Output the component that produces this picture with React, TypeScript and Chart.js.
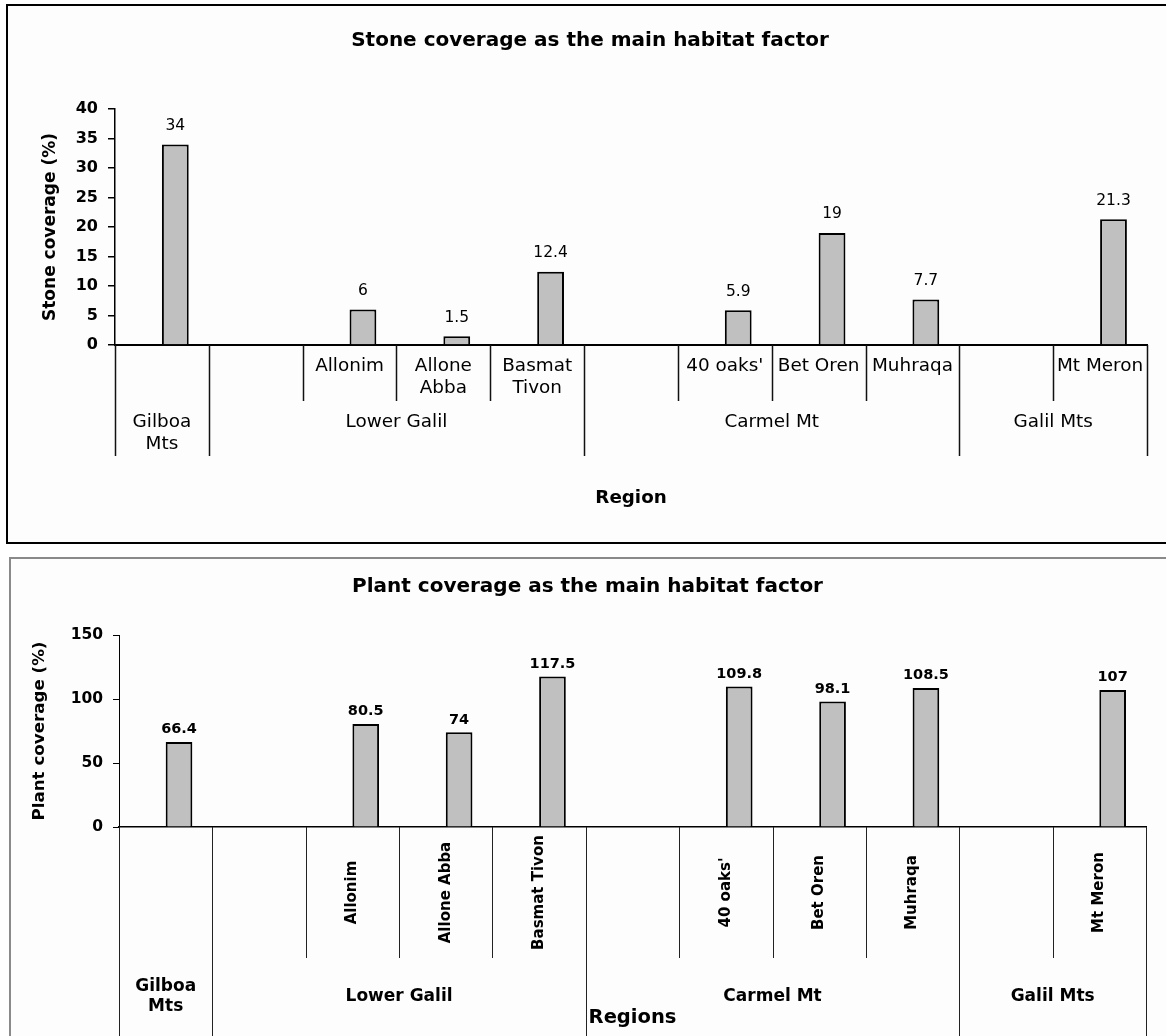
import { useEffect, useRef } from 'react';
import { Chart, registerables } from 'chart.js';

Chart.register(...registerables);

// One slot per bar position along the x axis; empty names are region-only slots
const siteNames = ['', '', 'Allonim', 'Allone Abba', 'Basmat Tivon', '', "40 oaks'", 'Bet Oren', 'Muhraqa', '', 'Mt Meron'];
// Regions that group the slots, and how many slots each one covers
const regionNames = ['Gilboa Mts', 'Lower Galil', 'Carmel Mt', 'Galil Mts'];
const regionSpans = [1, 4, 4, 2];

const stoneCoverage = [34, null, 6, 1.5, 12.4, null, 5.9, 19, 7.7, null, 21.3];
const plantCoverage = [66.4, null, 80.5, 74, 117.5, null, 109.8, 98.1, 108.5, null, 107];
// Empty leading series: every category holds two bar slots and the data bar takes the right one
const blankSeries = [null, null, null, null, null, null, null, null, null, null, null];

// min, max, step of each value axis
const stoneTicks = [0, 40, 5];
const plantTicks = [0, 150, 50];

const SANS = '"DejaVu Sans", Verdana, sans-serif';
const BAR_FILL = '#c0c0c0';

function wrapWords(ctx: CanvasRenderingContext2D, text: string, maxWidth: number): string[] {
  const words = text.split(' ');
  const lines: string[] = [];
  let line = '';
  for (const w of words) {
    const test = line ? line + ' ' + w : w;
    if (line && ctx.measureText(test).width > maxWidth) {
      lines.push(line);
      line = w;
    } else {
      line = test;
    }
  }
  if (line) lines.push(line);
  return lines;
}

// Two-level category axis: site names under each bar, region names below them
const regionAxis = {
  id: 'regionAxis',
  afterDraw(chart: any, _args: any, o: any) {
    const { ctx } = chart;
    const xs = chart.scales.x;
    const n = chart.data.labels.length;
    const band = (xs.right - xs.left) / n;
    const edge = (k: number) => xs.left + k * band;
    const y0 = xs.top;

    const bounds = [0];
    let acc = 0;
    o.spans.forEach((s: number) => {
      acc += s;
      bounds.push(acc);
    });

    ctx.save();
    ctx.strokeStyle = o.lineColor;
    ctx.lineWidth = o.lineWidth;
    ctx.beginPath();
    for (let k = 0; k <= n; k++) {
      const px = Math.round(edge(k)) + 0.5;
      ctx.moveTo(px, y0);
      ctx.lineTo(px, y0 + o.siteDepth);
    }
    bounds.forEach((b) => {
      const px = Math.round(edge(b)) + 0.5;
      ctx.moveTo(px, y0);
      ctx.lineTo(px, y0 + o.regionDepth);
    });
    ctx.stroke();

    ctx.fillStyle = o.textColor;
    ctx.textAlign = 'center';
    ctx.textBaseline = 'middle';

    ctx.font = o.siteFont;
    o.sites.forEach((name: string, i: number) => {
      if (!name) return;
      const cx = xs.getPixelForValue(i);
      if (o.rotateSites) {
        ctx.save();
        ctx.translate(cx, y0 + o.siteDepth / 2);
        ctx.rotate(-Math.PI / 2);
        ctx.fillText(name, 0, 0);
        ctx.restore();
      } else {
        wrapWords(ctx, name, band - 6).forEach((line, j) => {
          ctx.fillText(line, cx, y0 + o.siteOffset + j * o.siteLineGap);
        });
      }
    });

    ctx.font = o.regionFont;
    o.regions.forEach((name: string, r: number) => {
      const a = edge(bounds[r]);
      const b = edge(bounds[r + 1]);
      const lines = wrapWords(ctx, name, b - a - 6);
      const first =
        o.regionAnchor === 'middle'
          ? o.regionOffset - ((lines.length - 1) * o.regionLineGap) / 2
          : o.regionOffset;
      lines.forEach((line, j) => {
        ctx.fillText(line, (a + b) / 2, y0 + first + j * o.regionLineGap);
      });
    });
    ctx.restore();
  },
};

// Value printed above each bar
const valueLabels = {
  id: 'valueLabels',
  afterDatasetsDraw(chart: any, _args: any, o: any) {
    const { ctx } = chart;
    const meta = chart.getDatasetMeta(1);
    const values = chart.data.datasets[1].data;
    ctx.save();
    ctx.font = o.font;
    ctx.fillStyle = o.color;
    ctx.textAlign = 'center';
    ctx.textBaseline = 'middle';
    meta.data.forEach((bar: any, i: number) => {
      const v = values[i];
      if (v === null || v === undefined) return;
      ctx.fillText(String(v), bar.x, bar.y - o.gap);
    });
    ctx.restore();
  },
};

function stoneConfig(): any {
  return {
    type: 'bar',
    data: {
      labels: siteNames,
      datasets: [
        { label: '', data: blankSeries, backgroundColor: BAR_FILL, borderColor: '#000', borderWidth: 2 },
        { label: 'Stone coverage (%)', data: stoneCoverage, backgroundColor: BAR_FILL, borderColor: '#000', borderWidth: 2 },
      ],
    },
    options: {
      animation: false,
      responsive: false,
      events: [],
      layout: { padding: { left: 25, right: 19, top: 0, bottom: 0 } },
      datasets: { bar: { categoryPercentage: 2 / 3.5, barPercentage: 1 } },
      plugins: {
        legend: { display: false },
        tooltip: { enabled: false },
        title: {
          display: true,
          text: 'Stone coverage as the main habitat factor',
          color: '#000',
          font: { family: SANS, size: 20, weight: 'bold' },
          padding: { top: 23, bottom: 56 },
        },
        regionAxis: {
          sites: siteNames,
          regions: regionNames,
          spans: regionSpans,
          siteDepth: 56,
          regionDepth: 111,
          siteFont: `18.4px ${SANS}`,
          regionFont: `18.4px ${SANS}`,
          rotateSites: false,
          siteOffset: 21,
          siteLineGap: 22,
          regionOffset: 77,
          regionLineGap: 22,
          regionAnchor: 'top',
          lineColor: '#111',
          lineWidth: 1.5,
          textColor: '#000',
        },
        valueLabels: { font: `15.5px ${SANS}`, color: '#000', gap: 18.5 },
      },
      scales: {
        x: {
          grid: { display: false },
          ticks: { display: false },
          border: { display: true, color: '#000', width: 2 },
          title: {
            display: true,
            text: 'Region',
            color: '#000',
            font: { family: SANS, size: 18.3, weight: 'bold' },
            padding: { top: 0, bottom: 33 },
          },
          afterFit: (s: any) => {
            s.height = 197;
          },
        },
        y: {
          min: stoneTicks[0],
          max: stoneTicks[1],
          ticks: { stepSize: stoneTicks[2], color: '#000', padding: 10, font: { family: SANS, size: 16, weight: 'bold' } },
          grid: { drawOnChartArea: false, drawTicks: true, tickLength: 7, color: '#000', lineWidth: 1.5 },
          border: { display: true, color: '#000', width: 1.5 },
          title: {
            display: true,
            text: 'Stone coverage (%)',
            color: '#000',
            font: { family: SANS, size: 17, weight: 'bold' },
            padding: { top: 7.5, bottom: 0 },
          },
          afterFit: (s: any) => {
            s.width = 82;
          },
        },
      },
    },
    plugins: [regionAxis, valueLabels],
  };
}

function plantConfig(): any {
  return {
    type: 'bar',
    data: {
      labels: siteNames,
      datasets: [
        { label: '', data: blankSeries, backgroundColor: BAR_FILL, borderColor: '#000', borderWidth: 2 },
        { label: 'Plant coverage (%)', data: plantCoverage, backgroundColor: BAR_FILL, borderColor: '#000', borderWidth: 2 },
      ],
    },
    options: {
      animation: false,
      responsive: false,
      events: [],
      layout: { padding: { left: 18, right: 20, top: 0, bottom: 0 } },
      datasets: { bar: { categoryPercentage: 2 / 3.5, barPercentage: 1 } },
      plugins: {
        legend: { display: false },
        tooltip: { enabled: false },
        title: {
          display: true,
          text: 'Plant coverage as the main habitat factor',
          color: '#000',
          font: { family: SANS, size: 20, weight: 'bold' },
          padding: { top: 16, bottom: 36 },
        },
        regionAxis: {
          sites: siteNames,
          regions: regionNames,
          spans: regionSpans,
          siteDepth: 131,
          regionDepth: 209,
          siteFont: `bold 15px ${SANS}`,
          regionFont: `bold 17px ${SANS}`,
          rotateSites: true,
          siteOffset: 0,
          siteLineGap: 0,
          regionOffset: 169.7,
          regionLineGap: 20,
          regionAnchor: 'middle',
          lineColor: '#222',
          lineWidth: 1,
          textColor: '#000',
        },
        valueLabels: { font: `bold 14.5px ${SANS}`, color: '#000', gap: 12.5 },
      },
      scales: {
        x: {
          grid: { display: false },
          ticks: { display: false },
          border: { display: true, color: '#000', width: 1.5 },
          title: {
            display: true,
            text: 'Regions',
            color: '#000',
            font: { family: SANS, size: 19.5, weight: 'bold' },
            padding: { top: 0, bottom: 6.3 },
          },
          afterFit: (s: any) => {
            s.height = 209;
          },
        },
        y: {
          min: plantTicks[0],
          max: plantTicks[1],
          ticks: { stepSize: plantTicks[2], color: '#000', padding: 10, font: { family: SANS, size: 15.5, weight: 'bold' } },
          grid: { drawOnChartArea: false, drawTicks: true, tickLength: 6, color: '#000', lineWidth: 1 },
          border: { display: true, color: '#000', width: 1 },
          title: {
            display: true,
            text: 'Plant coverage (%)',
            color: '#000',
            font: { family: SANS, size: 16.7, weight: 'bold' },
            padding: { top: 1, bottom: 0 },
          },
          afterFit: (s: any) => {
            s.width = 90;
          },
        },
      },
    },
    plugins: [regionAxis, valueLabels],
  };
}

function ChartCanvas({ makeConfig, width, height }: { makeConfig: () => any; width: number; height: number }) {
  const ref = useRef<HTMLCanvasElement | null>(null);
  useEffect(() => {
    if (!ref.current) return;
    const chart = new Chart(ref.current, makeConfig());
    return () => chart.destroy();
  }, [makeConfig]);
  return <canvas ref={ref} width={width} height={height} />;
}

export default function App() {
  return (
    <div
      style={{
        position: 'absolute',
        left: 0,
        top: 0,
        width: 1166,
        height: 1036,
        overflow: 'hidden',
        background: '#fff',
      }}
    >
      <div
        style={{
          position: 'absolute',
          left: 6,
          top: 4,
          width: 1170,
          height: 540,
          boxSizing: 'border-box',
          border: '2px solid #000',
          background: '#fdfdfd',
        }}
      >
        <ChartCanvas makeConfig={stoneConfig} width={1158} height={536} />
      </div>
      <div
        style={{
          position: 'absolute',
          left: 9,
          top: 557,
          width: 1170,
          height: 490,
          boxSizing: 'border-box',
          border: '2px solid #8a8a8a',
          background: '#fdfdfd',
        }}
      >
        <ChartCanvas makeConfig={plantConfig} width={1155} height={477} />
      </div>
    </div>
  );
}
